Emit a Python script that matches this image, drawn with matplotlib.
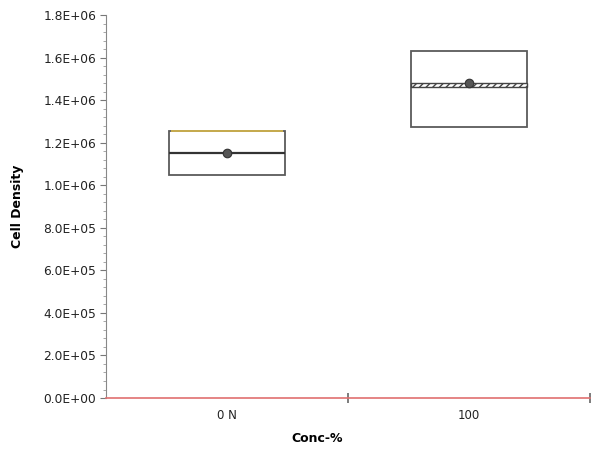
import matplotlib
matplotlib.use("Agg")
import matplotlib.pyplot as plt
from matplotlib.ticker import FuncFormatter, MultipleLocator, FixedLocator

plt.rcParams['font.family'] = 'DejaVu Sans'
plt.rcParams['hatch.color'] = '#555555'
plt.rcParams['hatch.linewidth'] = 1.0

# box summary
categories = ["0 N", "100"]
q1 = [1.048e6, 1.275e6]
median = [1.151e6, 1.471e6]
q3 = [1.255e6, 1.632e6]
mean = [1.151e6, 1.482e6]

fig = plt.figure(figsize=(5.92, 4.62), dpi=100)
ax = fig.add_axes([0.179, 0.1385, 0.818, 0.829])

pos = list(range(len(categories)))
w = 0.48
box_col = '#5a5a5a'

heights = [b - a for a, b in zip(q1, q3)]
ax.bar(pos, heights, bottom=q1, width=w, fill=False, edgecolor=box_col, linewidth=1.3, zorder=3)

# median lines
for i in pos:
    if i == 0:
        ax.hlines(median[i], i - w / 2, i + w / 2, color='#333333', lw=1.6, zorder=4)
    else:
        ax.bar(i, 0.016e6, bottom=median[i] - 0.008e6, width=w, color='white',
               edgecolor='#444444', hatch='/////', linewidth=1.0, zorder=4)

# yellow top edge on first box
ax.hlines(q3[0], pos[0] - w / 2 + 0.01, pos[0] + w / 2 - 0.01, color='#d8b84a', lw=1.2, zorder=5)

ax.scatter(pos, mean, s=38, color='#555555', edgecolor='#333333', linewidth=0.8, zorder=6)

ax.set_xlim(-0.5, 1.5)
ax.set_ylim(0, 1.8e6)

ax.yaxis.set_major_locator(MultipleLocator(2e5))
ax.yaxis.set_minor_locator(MultipleLocator(4e4))
ax.yaxis.set_major_formatter(FuncFormatter(lambda v, p: f"{v:.1E}"))

ax.xaxis.set_major_locator(FixedLocator([0.5, 1.5]))
ax.xaxis.set_major_formatter(FuncFormatter(lambda v, p: ""))
for i, c in zip(pos, categories):
    ax.text(i, -0.045, c, transform=ax.get_xaxis_transform(), ha='center', va='center',
            fontsize=8.5, color='#222222')

for s in ['top', 'right']:
    ax.spines[s].set_visible(False)
ax.spines['left'].set_color('#888888')
ax.spines['bottom'].set_color('#e07070')
ax.spines['bottom'].set_linewidth(1.2)

ax.tick_params(axis='y', which='major', direction='out', length=4, color='#777777',
               labelsize=8.8, labelcolor='#222222', pad=3)
ax.tick_params(axis='y', which='minor', direction='out', length=2, color='#999999')
ax.tick_params(axis='x', which='major', direction='inout', length=7, color='#666666', width=1.2)

fig.text(18 / 592, 1 - 206 / 462, "Cell Density", rotation=90, ha='center', va='center',
         fontsize=9, fontweight='bold')
fig.text(317 / 592, 1 - 438 / 462, "Conc-%", ha='center', va='center', fontsize=9, fontweight='bold')

fig.savefig("out.png", dpi=100)
